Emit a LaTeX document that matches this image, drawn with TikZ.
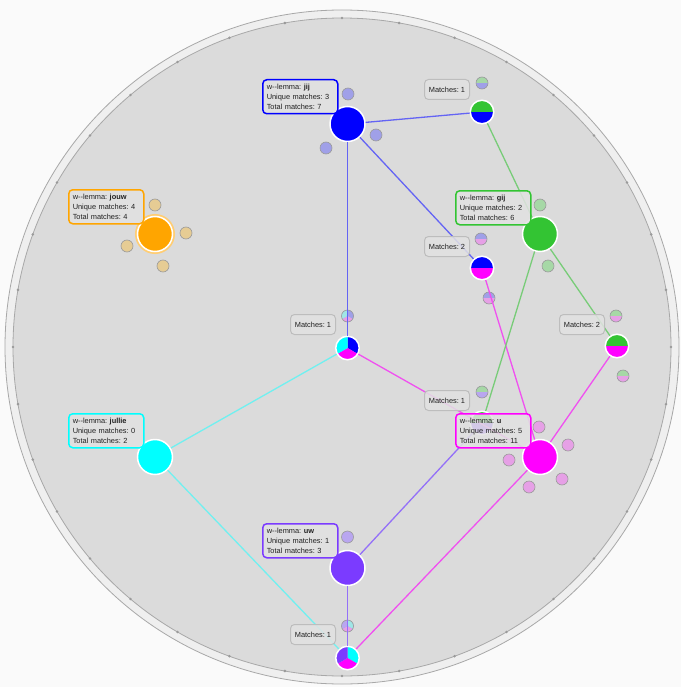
\documentclass[tikz,border=0pt]{standalone}
\usepackage{fontspec}
\setmainfont{Liberation Sans}
\usepackage{tikz}
\frenchspacing

\definecolor{bgcol}{HTML}{FAFAFA}
\definecolor{ringfill}{HTML}{EFEFEF}
\definecolor{ringline}{HTML}{A8A8A8}
\definecolor{discfill}{HTML}{DBDBDB}
\definecolor{tickgray}{HTML}{9A9A9A}
\definecolor{boxfill}{HTML}{E2E2E2}
\definecolor{boxline}{HTML}{BDBDBD}
\definecolor{satline}{HTML}{9A9A9A}
\definecolor{textgray}{HTML}{202020}
% word colours
\definecolor{jijcol}{HTML}{0000FF}
\definecolor{jouwcol}{HTML}{FFA500}
\definecolor{gijcol}{HTML}{33C433}
\definecolor{julliecol}{HTML}{00FFFF}
\definecolor{ucol}{HTML}{FF00FF}
\definecolor{uwcol}{HTML}{7B3BFF}
% light colours
\definecolor{lblue}{HTML}{A0A0E8}
\definecolor{lorange}{HTML}{E6CC94}
\definecolor{lgreen}{HTML}{A6D8A6}
\definecolor{lmag}{HTML}{E6A0E6}
\definecolor{lpurple}{HTML}{B9A6F0}
\definecolor{lcyan}{HTML}{A0E6E6}
% line colours
\definecolor{blueline}{HTML}{6464F4}
\definecolor{greenline}{HTML}{78CC78}
\definecolor{cyanline}{HTML}{70F0F0}
\definecolor{magline}{HTML}{F050F0}
\definecolor{purpline}{HTML}{9470F8}

\newcommand\pieslice[4]{%
  \fill[#1] (path picture bounding box.center)
    -- ([shift={(#2:20pt)}]path picture bounding box.center)
    -- ([shift={(#3:20pt)}]path picture bounding box.center)
    -- ([shift={(#4:20pt)}]path picture bounding box.center) -- cycle;}

\tikzset{
  word/.style={circle, fill=#1, draw=white, line width=1.5pt, minimum size=35pt, inner sep=0pt},
  pie/.style={circle, draw=white, line width=1.5pt, minimum size=23.5pt, inner sep=0pt},
  sat/.style={circle, fill=#1, draw=satline, line width=0.6pt, minimum size=12pt, inner sep=0pt},
  sat/.default=lblue,
  halves/.style 2 args={path picture={
    \fill[#1] (path picture bounding box.north west) rectangle (path picture bounding box.east);
    \fill[#2] (path picture bounding box.west) rectangle (path picture bounding box.south east);}},
  thirds/.style n args={3}{path picture={
    \pieslice{#1}{90}{30}{-30}
    \pieslice{#2}{-30}{-90}{-150}
    \pieslice{#3}{210}{150}{90}}},
  link/.style={draw=#1, line width=1.3pt},
  lemma/.style={draw=#1, line width=1.5pt, fill=boxfill, fill opacity=0.85, text opacity=1,
    rounded corners=4pt, anchor=north west, minimum width=75pt, minimum height=34pt,
    text width=67pt, inner xsep=4pt, inner ysep=2pt, align=left, text=textgray,
    font=\fontsize{7.4}{10}\selectfont},
  matches/.style={draw=boxline, line width=1pt, fill=boxfill, fill opacity=0.85, text opacity=1,
    rounded corners=4pt, anchor=north west, minimum width=45pt, minimum height=20pt,
    inner sep=0pt, text=textgray, font=\fontsize{7.4}{10}\selectfont}
}

\begin{document}
\begin{tikzpicture}[x=1pt,y=-1pt]
	\fill[bgcol] (0,0) rectangle (681,687);
	\useasboundingbox (0,0) rectangle (681,687);
	
	% ring
	\coordinate (ctr) at (342,347);
	\filldraw[fill=ringfill, draw=ringline, line width=0.8pt] (ctr) circle (337pt);
	\filldraw[fill=discfill, draw=ringline, line width=0.8pt] (ctr) circle (329pt);
	\foreach \a in {0,10,...,350}
		\fill[tickgray] (ctr) ++(\a:329pt) circle (1.4pt);
	
	% satellites
	\node[sat=lblue] (jijs1) at (348,94) {};
	\node[sat=lblue] (jijs2) at (376,135) {};
	\node[sat=lblue] (jijs3) at (326,148) {};
	\node[sat=lorange] (jouws1) at (155,205) {};
	\node[sat=lorange] (jouws2) at (186,233) {};
	\node[sat=lorange] (jouws3) at (127,246) {};
	\node[sat=lorange] (jouws4) at (163,266) {};
	\node[sat=lgreen] (gijs1) at (540,205) {};
	\node[sat=lgreen] (gijs2) at (548,266) {};
	\node[sat=lmag] (us1) at (539,427) {};
	\node[sat=lmag] (us2) at (568,445) {};
	\node[sat=lmag] (us3) at (509,460) {};
	\node[sat=lmag] (us4) at (562,479) {};
	\node[sat=lmag] (us5) at (529,487) {};
	\node[sat=lpurple] (uws1) at (347.5,537) {};
	\node[sat, halves={lgreen}{lblue}] (m1s1) at (482,83) {};
	\node[sat, halves={lblue}{lmag}] (m2s1) at (481,239) {};
	\node[sat, halves={lblue}{lmag}] (m2s2) at (489,298) {};
	\node[sat, thirds={lblue}{lmag}{lcyan}] (m3s1) at (347.5,316) {};
	\node[sat, halves={lgreen}{lmag}] (m4s1) at (616,316) {};
	\node[sat, halves={lgreen}{lmag}] (m4s2) at (623,376) {};
	\node[sat, halves={lgreen}{lpurple}] (m5s1) at (482,392) {};
	\node[sat, thirds={lcyan}{lmag}{lpurple}] (m6s1) at (347.5,626) {};
	
	% words
	\node[word=jijcol] (jij) at (347.5,124) {};
	\node[word=jouwcol, preaction={draw=jouwcol!55, line width=5pt}] (jouw) at (155,234) {};
	\node[word=gijcol] (gij) at (540,234) {};
	\node[word=julliecol] (jullie) at (155,457) {};
	\node[word=ucol] (u) at (540,457) {};
	\node[word=uwcol] (uw) at (347.5,568) {};
	
	% shared matches
	\node[pie, halves={gijcol}{jijcol}] (m1) at (482,112) {};
	\node[pie, halves={jijcol}{ucol}] (m2) at (482,268) {};
	\node[pie, thirds={jijcol}{ucol}{julliecol}] (m3) at (347.5,348) {};
	\node[pie, halves={gijcol}{ucol}] (m4) at (617,346) {};
	\node[pie, halves={gijcol}{uwcol}] (m5) at (482,423) {};
	\node[pie, thirds={julliecol}{ucol}{uwcol}] (m6) at (347.5,658) {};
	
	\path[link=blueline] (jij) edge (m1);
	\path[link=greenline] (m1) edge (gij);
	\path[link=blueline] (jij) edge (m2);
	\path[link=magline] (m2) edge (u);
	\path[link=blueline] (jij) edge (m3);
	\path[link=cyanline] (m3) edge (jullie);
	\path[link=magline] (m3) edge (u);
	\path[link=greenline] (gij) edge (m4);
	\path[link=magline] (m4) edge (u);
	\path[link=greenline] (gij) edge (m5);
	\path[link=purpline] (m5) edge (uw);
	\path[link=cyanline] (jullie) edge (m6);
	\path[link=purpline] (uw) edge (m6);
	\path[link=magline] (u) edge (m6);
	
	% labels
	\node[matches] (m1lbl) at (424,79) {Matches: 1};
	\node[matches] (m2lbl) at (424,236) {Matches: 2};
	\node[matches] (m3lbl) at (290,314) {Matches: 1};
	\node[matches] (m4lbl) at (559,314) {Matches: 2};
	\node[matches] (m5lbl) at (424,390) {Matches: 1};
	\node[matches] (m6lbl) at (290,624) {Matches: 1};
	
	\node[lemma=jijcol] (jijlbl) at (262,79) {w-\kern0pt-lemma: \textbf{jij}\\Unique matches: 3\\Total matches: 7};
	\node[lemma=jouwcol] (jouwlbl) at (68,189) {w-\kern0pt-lemma: \textbf{jouw}\\Unique matches: 4\\Total matches: 4};
	\node[lemma=gijcol] (gijlbl) at (455,190) {w-\kern0pt-lemma: \textbf{gij}\\Unique matches: 2\\Total matches: 6};
	\node[lemma=julliecol] (jullielbl) at (68,413) {w-\kern0pt-lemma: \textbf{jullie}\\Unique matches: 0\\Total matches: 2};
	\node[lemma=ucol] (ulbl) at (455,413) {w-\kern0pt-lemma: \textbf{u}\\Unique matches: 5\\Total matches: 11};
	\node[lemma=uwcol] (uwlbl) at (262,523) {w-\kern0pt-lemma: \textbf{uw}\\Unique matches: 1\\Total matches: 3};
\end{tikzpicture}
\end{document}
